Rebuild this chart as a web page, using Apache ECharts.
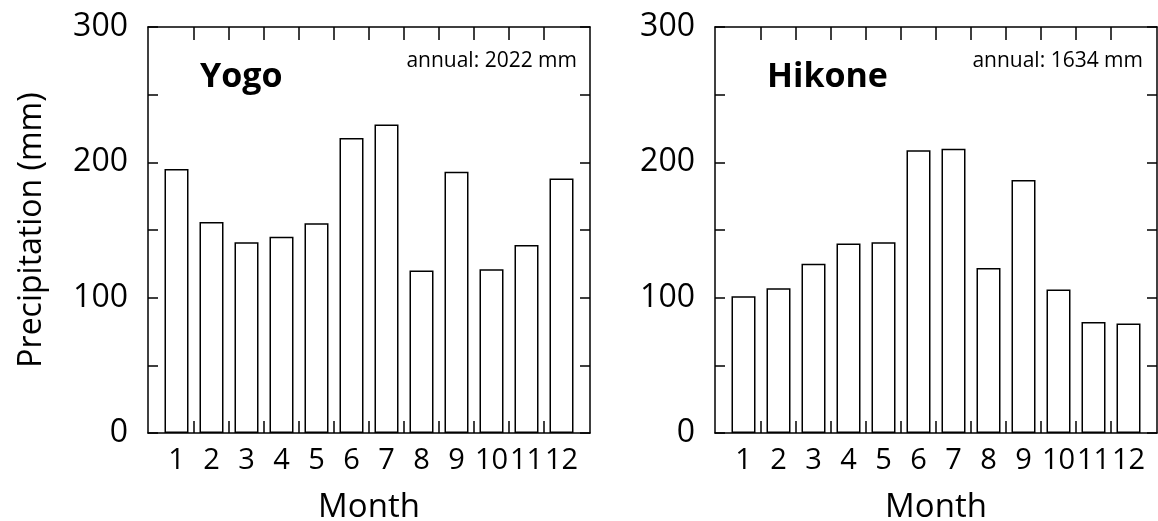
<!DOCTYPE html>
<html>
<head>
<meta charset="utf-8">
<title>Monthly precipitation</title>
<script src="https://cdn.jsdelivr.net/npm/echarts@6/dist/echarts.min.js"></script>
<style>
html, body { margin: 0; padding: 0; background: #fff; }
#main { width: 1158px; height: 521px; }
</style>
</head>
<body>
<div id="main"></div>
<script>
var months = [1, 2, 3, 4, 5, 6, 7, 8, 9, 10, 11, 12];
var yogo = [195, 156, 141, 145, 155, 218, 228, 120, 193, 121, 139, 188];
var hikone = [101, 107, 125, 140, 141, 209, 210, 122, 187, 106, 82, 81];
var stations = ['Yogo', 'Hikone'];
var annual = ['annual: 2022 mm', 'annual: 1634 mm'];
var yLabels = [0, 100, 200, 300];

var FONT = '"Open Sans", "Noto Sans", sans-serif';
var black = '#000';
var line = { color: black, width: 1.5 };
// boundaries between months, where the ticks sit
var bounds = months.slice(0, -1).map(function (m) { return m + 0.5; });
var pad = 11 / 35;

var lefts = [148, 715];
var rights = [577, 1143];
var grids = [], xAxes = [], yAxes = [], series = [], texts = [];

[yogo, hikone].forEach(function (vals, i) {
    grids.push({ left: lefts[i], top: 27, width: 442, height: 406, outerBoundsMode: 'none', containLabel: false });
    // bottom
    xAxes.push({
        type: 'value', gridIndex: i, position: 'bottom',
        min: 0.5 - pad, max: 12.5 + pad,
        axisLine: { show: true, onZero: false, lineStyle: line },
        axisTick: { show: true, inside: true, length: 12, customValues: bounds, lineStyle: line },
        axisLabel: { customValues: months, color: black, fontSize: 29, fontFamily: FONT, margin: 13 },
        splitLine: { show: false },
        name: 'Month', nameLocation: 'middle', nameGap: 58,
        nameTextStyle: { color: black, fontSize: 33, fontFamily: FONT }
    });
    // top
    xAxes.push({
        type: 'value', gridIndex: i, position: 'top',
        min: 0.5 - pad, max: 12.5 + pad,
        axisLine: { show: true, onZero: false, lineStyle: line },
        axisTick: { show: true, inside: true, length: 13, customValues: bounds, lineStyle: line },
        axisLabel: { show: false },
        splitLine: { show: false }
    });
    yAxes.push({
        type: 'value', gridIndex: i, position: 'left',
        min: 0, max: 300, interval: 50,
        axisLine: { show: true, onZero: false, lineStyle: line },
        axisTick: { show: true, inside: true, length: 10, lineStyle: line },
        axisLabel: { customValues: yLabels, color: black, fontSize: 32, fontFamily: FONT, margin: 20 },
        splitLine: { show: false },
        name: i == 0 ? 'Precipitation (mm)' : '',
        nameLocation: 'middle', nameGap: 100,
        nameTextStyle: { color: black, fontSize: 32, fontFamily: FONT }
    });
    yAxes.push({
        type: 'value', gridIndex: i, position: 'right',
        min: 0, max: 300, interval: 50,
        axisLine: { show: true, onZero: false, lineStyle: line },
        axisTick: { show: true, inside: true, length: 10, lineStyle: line },
        axisLabel: { show: false },
        splitLine: { show: false }
    });
    series.push({
        type: 'bar',
        xAxisIndex: i * 2, yAxisIndex: i * 2,
        barWidth: 24,
        data: months.map(function (m, k) { return [m, vals[k]]; }),
        itemStyle: { color: '#fff', borderColor: black, borderWidth: 1.5 },
        silent: true
    });
    texts.push({
        type: 'text', x: lefts[i] + 52, y: 77,
        style: { text: stations[i], fill: black, fontSize: 34, fontWeight: 'bold', fontFamily: FONT, align: 'left', verticalAlign: 'middle' }
    });
    texts.push({
        type: 'text', x: rights[i], y: 61,
        style: { text: annual[i], fill: black, fontSize: 21, fontFamily: FONT, align: 'right', verticalAlign: 'middle' }
    });
});

var chart = echarts.init(document.getElementById('main'), null, { renderer: 'canvas' });
chart.setOption({
    backgroundColor: '#fff',
    animation: false,
    grid: grids,
    xAxis: xAxes,
    yAxis: yAxes,
    series: series,
    graphic: texts
});
</script>
</body>
</html>
